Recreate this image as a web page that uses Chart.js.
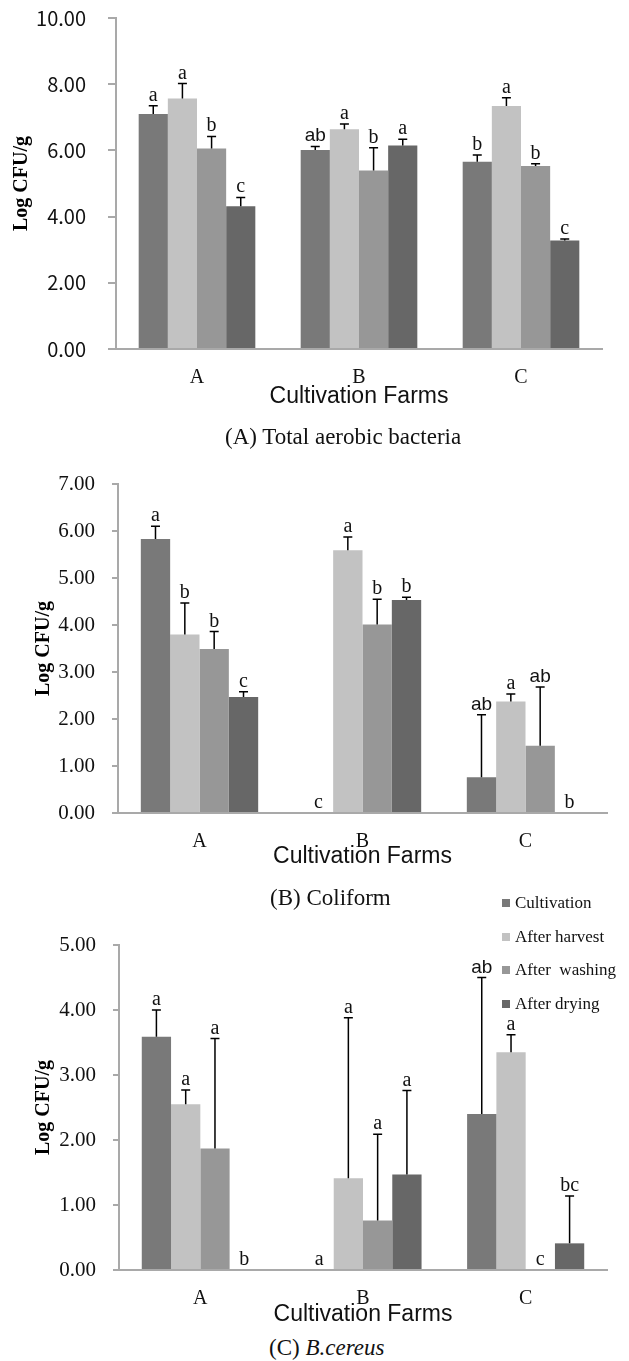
<!DOCTYPE html>
<html>
<head>
<meta charset="utf-8">
<script src="https://cdn.jsdelivr.net/npm/chart.js@4.4.1/dist/chart.umd.min.js"></script>
<style>
  body { margin: 0; background: #fff; }
  .page { position: relative; width: 629px; height: 1361px; overflow: hidden; }
  .page canvas { position: absolute; left: 0; }
  .caption { position: absolute; font: 23px 'Liberation Serif', 'Times New Roman', serif; color: #111; line-height: 24px; white-space: nowrap; }
  .legend-item { position: absolute; left: 502px; font: 17px 'Liberation Serif', 'Times New Roman', serif; color: #111; line-height: 20px; white-space: pre; }
  .legend-item span { display: inline-block; width: 8px; height: 8px; margin-right: 5px; vertical-align: 1px; }
</style>
</head>
<body>
<div class="page">
  <canvas id="aerobicChart" width="629" height="410" style="top:0px"></canvas>
  <canvas id="coliformChart" width="629" height="430" style="top:440px"></canvas>
  <canvas id="cereusChart" width="629" height="428" style="top:900px"></canvas>
  <div class="caption" style="left:225px; top:425px">(A) Total aerobic bacteria</div>
  <div class="caption" style="left:270px; top:886px">(B) Coliform</div>
  <div class="caption" style="left:269px; top:1336px">(C) <i>B.cereus</i></div>
  <div id="legend"></div>
</div>
<script>
// categories and series
const farms = ['A', 'B', 'C'];
const stages = ['Cultivation', 'After harvest', 'After  washing', 'After drying'];
const stageColors = ['#797979', '#c2c2c2', '#979797', '#676767'];

// (A) Total aerobic bacteria - rows follow stages, columns follow farms
const aerobicMean = [[7.10, 6.01, 5.66], [7.57, 6.64, 7.34], [6.06, 5.39, 5.53], [4.31, 6.15, 3.28]];
const aerobicSd = [[0.25, 0.11, 0.20], [0.45, 0.16, 0.25], [0.36, 0.69, 0.07], [0.27, 0.19, 0.04]];
const aerobicLetters = [['a', 'ab', 'b'], ['a', 'a', 'a'], ['b', 'b', 'b'], ['c', 'a', 'c']];
const aerobicTicks = [0, 2, 4, 6, 8, 10];

// (B) Coliform
const coliformMean = [[5.83, 0, 0.76], [3.80, 5.59, 2.37], [3.49, 4.01, 1.43], [2.47, 4.53, 0]];
const coliformSd = [[0.27, 0, 1.33], [0.67, 0.28, 0.16], [0.37, 0.54, 1.25], [0.11, 0.06, 0]];
const coliformLetters = [['a', 'c', 'ab'], ['b', 'a', 'a'], ['b', 'b', 'ab'], ['c', 'b', 'b']];
const coliformTicks = [0, 1, 2, 3, 4, 5, 6, 7];

// (C) B.cereus
const cereusMean = [[3.59, 0, 2.40], [2.55, 1.41, 3.35], [1.87, 0.76, 0], [0, 1.47, 0.41]];
const cereusSd = [[0.41, 0, 2.10], [0.22, 2.47, 0.27], [1.69, 1.33, 0], [0, 1.29, 0.73]];
const cereusLetters = [['a', 'a', 'ab'], ['a', 'a', 'a'], ['a', 'a', 'c'], ['b', 'a', 'bc']];
const cereusTicks = [0, 1, 2, 3, 4, 5];

const axisGray = '#a9a9a9';

// error bars (upper half only) and significance letters
const errorBarsAndLetters = {
    id: 'errorBarsAndLetters',
    afterDatasetsDraw(chart) {
        const ctx = chart.ctx;
        const yScale = chart.scales.y;
        chart.data.datasets.forEach((ds, di) => {
            chart.getDatasetMeta(di).data.forEach((bar, i) => {
                const sd = ds.sd[i];
                const top = yScale.getPixelForValue(ds.data[i] + sd);
                ctx.save();
                if (sd > 0) {
                    ctx.strokeStyle = '#000';
                    ctx.lineWidth = 1.5;
                    ctx.beginPath();
                    ctx.moveTo(bar.x, bar.y);
                    ctx.lineTo(bar.x, top);
                    ctx.moveTo(bar.x - 4.5, top);
                    ctx.lineTo(bar.x + 4.5, top);
                    ctx.stroke();
                }
                const letter = ds.letters[i];
                ctx.fillStyle = '#111';
                ctx.font = letter === 'ab' ? "19px 'Liberation Sans'" : "20px 'Liberation Serif'";
                ctx.textAlign = 'center';
                ctx.textBaseline = 'alphabetic';
                ctx.fillText(letter, bar.x, top - 5);
                ctx.restore();
            });
        });
    }
};

function makeChart(id, means, sds, letters, ticks, box) {
    const canvas = document.getElementById(id);
    const datasets = stages.map((name, s) => ({
        label: name,
        data: means[s],
        sd: sds[s],
        letters: letters[s],
        backgroundColor: stageColors[s],
        categoryPercentage: 0.72,
        barPercentage: 1.0
    }));

    return new Chart(canvas, {
        type: 'bar',
        data: { labels: farms, datasets: datasets },
        plugins: [errorBarsAndLetters],
        options: {
            responsive: false,
            animation: false,
            layout: { padding: { top: box.top, right: 629 - box.right, bottom: 0, left: 0 } },
            plugins: {
                legend: { display: false },
                tooltip: { enabled: false }
            },
            scales: {
                x: {
                    grid: { display: false },
                    border: { display: true, color: axisGray, width: 2 },
                    ticks: {
                        padding: 9,
                        color: '#111',
                        font: { family: 'Liberation Serif', size: 20 }
                    },
                    title: {
                        display: true,
                        text: 'Cultivation Farms',
                        color: '#111',
                        font: { family: 'Liberation Sans', size: 23 },
                        padding: { top: 0, bottom: 0 }
                    },
                    afterFit: (scale) => { scale.height = canvas.height - box.bottom; }
                },
                y: {
                    min: 0,
                    max: ticks[ticks.length - 1],
                    afterBuildTicks: (scale) => { scale.ticks = ticks.map(v => ({ value: v })); },
                    grid: { drawOnChartArea: false, color: axisGray, lineWidth: 2, tickLength: box.tickLength },
                    border: { display: true, color: axisGray, width: 2 },
                    ticks: {
                        padding: box.tickPad,
                        color: '#111',
                        font: box.tickFont,
                        callback: (value) => Number(value).toFixed(2)
                    },
                    title: {
                        display: true,
                        text: 'Log CFU/g',
                        color: '#000',
                        font: { family: 'Liberation Serif', size: 20, weight: 'bold' },
                        padding: { top: box.titlePad, bottom: 0 }
                    },
                    afterFit: (scale) => {
                        scale.width = box.left;
                        // keep the label padding from pushing the plot area down
                        scale.paddingTop = 0;
                        scale.paddingBottom = 0;
                    }
                }
            }
        }
    });
}

// Panel A
makeChart('aerobicChart', aerobicMean, aerobicSd, aerobicLetters, aerobicTicks, {
    left: 116, top: 18, bottom: 349, right: 602,
    tickLength: 8, tickPad: 22, titlePad: 10,
    tickFont: { family: 'Noto Sans CJK KR', size: 20 }
});

// Panel B
makeChart('coliformChart', coliformMean, coliformSd, coliformLetters, coliformTicks, {
    left: 118, top: 44, bottom: 373, right: 607,
    tickLength: 6, tickPad: 17, titlePad: 32,
    tickFont: { family: 'Liberation Serif', size: 21 }
});

// Panel C
makeChart('cereusChart', cereusMean, cereusSd, cereusLetters, cereusTicks, {
    left: 119, top: 45, bottom: 370, right: 607,
    tickLength: 6, tickPad: 17, titlePad: 32,
    tickFont: { family: 'Liberation Serif', size: 21 }
});

// Legend beside panel C
const legend = document.getElementById('legend');
stages.forEach((name, s) => {
    const item = document.createElement('div');
    item.className = 'legend-item';
    item.style.top = (893 + s * 33.7) + 'px';
    item.innerHTML = '<span style="background:' + stageColors[s] + '"></span>' + name;
    legend.appendChild(item);
});
</script>
</body>
</html>
